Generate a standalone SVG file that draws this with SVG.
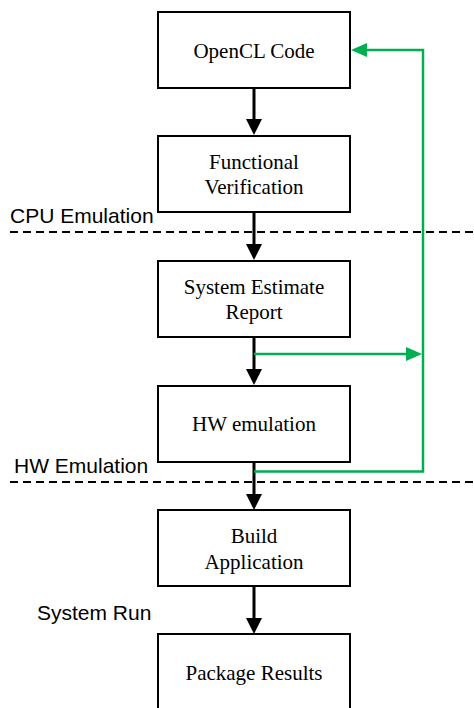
<svg xmlns="http://www.w3.org/2000/svg" width="474" height="708" viewBox="0 0 474 708">
<style>
.box{fill:#fff;stroke:#000;stroke-width:2}
.t{font-family:"Liberation Serif","Times New Roman",serif;font-size:21px;fill:#000;text-anchor:middle}
.lbl{font-family:"Liberation Sans",Arial,sans-serif;font-size:21px;fill:#000}
.blk{stroke:#000;stroke-width:3;fill:none}
.grn{stroke:#00b050;stroke-width:2.5;fill:none}
.dash{stroke:#000;stroke-width:2;stroke-dasharray:8,5;fill:none}
</style>
<rect width="474" height="708" fill="#fff"/>
<g id="zones">
<line class="dash" x1="10" y1="232" x2="474" y2="232"/>
<line class="dash" x1="10" y1="482" x2="474" y2="482"/>
<text class="lbl" x="10" y="223">CPU Emulation</text>
<text class="lbl" x="14" y="473">HW Emulation</text>
<text class="lbl" x="37" y="620">System Run</text>
</g>
<g id="connectors">
<line class="blk" x1="254" y1="88" x2="254" y2="120"/>
<polygon points="246,119 262,119 254,135" fill="#000"/>
<line class="blk" x1="254" y1="212" x2="254" y2="245"/>
<polygon points="246,244 262,244 254,260" fill="#000"/>
<line class="blk" x1="254" y1="337" x2="254" y2="370"/>
<polygon points="246,369 262,369 254,385" fill="#000"/>
<line class="blk" x1="254" y1="462" x2="254" y2="495"/>
<polygon points="246,494 262,494 254,510" fill="#000"/>
<line class="blk" x1="254" y1="586" x2="254" y2="619"/>
<polygon points="246,618 262,618 254,634" fill="#000"/>
<polyline class="grn" points="254,471.5 423,471.5 423,50 366,50"/>
<polygon points="367,43 367,57 351,50" fill="#00b050"/>
<line class="grn" x1="254" y1="354" x2="407" y2="354"/>
<polygon points="406,347 406,361 422,354" fill="#00b050"/>
</g>
<g id="n1"><rect class="box" x="158" y="12" width="192" height="76"/><text class="t" x="254" y="58">OpenCL Code</text></g>
<g id="n2"><rect class="box" x="158" y="136" width="192" height="76"/><text class="t" x="254" y="169">Functional</text><text class="t" x="254" y="194">Verification</text></g>
<g id="n3"><rect class="box" x="158" y="261" width="192" height="76"/><text class="t" x="254" y="294">System Estimate</text><text class="t" x="254" y="319">Report</text></g>
<g id="n4"><rect class="box" x="158" y="386" width="192" height="76"/><text class="t" x="254" y="431">HW emulation</text></g>
<g id="n5"><rect class="box" x="158" y="510" width="192" height="76"/><text class="t" x="254" y="543">Build</text><text class="t" x="254" y="569">Application</text></g>
<g id="n6"><rect class="box" x="158" y="634" width="192" height="80"/><text class="t" x="254" y="680">Package Results</text></g>
</svg>
